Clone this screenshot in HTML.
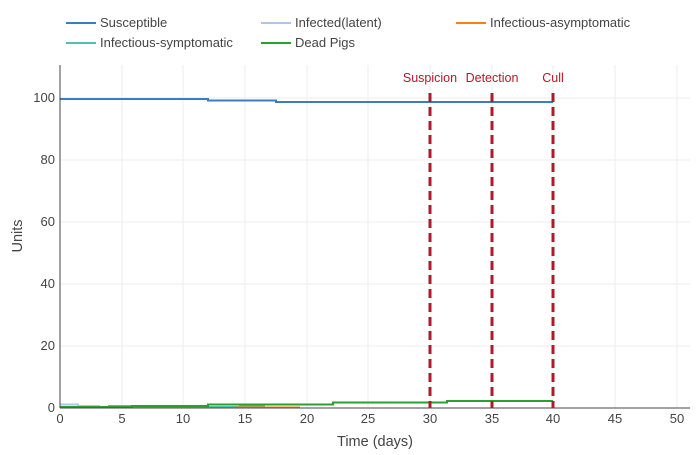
<!DOCTYPE html>
<html><head><style>
body{margin:0;background:#fff;font-family:"Liberation Sans",sans-serif;}
</style></head><body>
<svg width="700" height="450" xmlns="http://www.w3.org/2000/svg" font-family="Liberation Sans, sans-serif">
<rect width="700" height="450" fill="#fff"/>
<g font-size="13" fill="#444">
<line x1="66" y1="23" x2="96" y2="23" stroke="#3a7dc0" stroke-width="2"/><text x="100" y="27">Susceptible</text>
<line x1="261" y1="23" x2="291" y2="23" stroke="#aec7e8" stroke-width="2"/><text x="295" y="27">Infected(latent)</text>
<line x1="456" y1="23" x2="486" y2="23" stroke="#ff7f0e" stroke-width="2"/><text x="490" y="27">Infectious-asymptomatic</text>
<line x1="66" y1="43" x2="96" y2="43" stroke="#4fc1b0" stroke-width="2"/><text x="100" y="47">Infectious-symptomatic</text>
<line x1="261" y1="43" x2="291" y2="43" stroke="#2ca02c" stroke-width="2"/><text x="295" y="47">Dead Pigs</text>
</g>
<g stroke="#eee" stroke-width="1">
<line x1="122" y1="65" x2="122" y2="408"/><line x1="183" y1="65" x2="183" y2="408"/><line x1="245" y1="65" x2="245" y2="408"/><line x1="307" y1="65" x2="307" y2="408"/><line x1="368" y1="65" x2="368" y2="408"/><line x1="430" y1="65" x2="430" y2="408"/><line x1="492" y1="65" x2="492" y2="408"/><line x1="553" y1="65" x2="553" y2="408"/><line x1="615" y1="65" x2="615" y2="408"/><line x1="677" y1="65" x2="677" y2="408"/>
<line x1="60" y1="98" x2="690" y2="98"/><line x1="60" y1="160" x2="690" y2="160"/><line x1="60" y1="222" x2="690" y2="222"/><line x1="60" y1="284" x2="690" y2="284"/><line x1="60" y1="346" x2="690" y2="346"/>
</g>
<polyline fill="none" stroke="#aec7e8" stroke-width="2" points="60,404.5 78,404.5 78,406 100,406"/>
<polyline fill="none" stroke="#4fc1b0" stroke-width="2" points="108,406 131,406 131,407.5 165,407.5 165,406.5 193,406.5 193,407 240,407 240,406.5 265,406.5"/>
<polyline fill="none" stroke="#ff7f0e" stroke-width="2" points="235,407.5 300,407.5"/>
<polyline fill="none" stroke="#3a7dc0" stroke-width="2" points="60,99 208,99 208,100.5 276,100.5 276,102 553,102"/>
<polyline fill="none" stroke="#2ca02c" stroke-width="2" points="60,407 132,407 132,406 208,406 208,404.5 333,404.5 333,402.5 447,402.5 447,401 553,401"/>
<line x1="60" y1="65" x2="60" y2="408" stroke="#444" stroke-width="1"/>
<line x1="60" y1="408" x2="690" y2="408" stroke="#444" stroke-width="1"/>
<g stroke="#b2182b" stroke-width="3" stroke-dasharray="9,5">
<line x1="430" y1="93" x2="430" y2="408"/><line x1="492" y1="93" x2="492" y2="408"/><line x1="553" y1="93" x2="553" y2="408"/>
</g>
<g font-size="12.5" fill="#b2182b" text-anchor="middle">
<text x="430" y="82">Suspicion</text><text x="492" y="82">Detection</text><text x="553" y="82">Cull</text>
</g>
<g font-size="13" fill="#444" text-anchor="middle">
<text x="60" y="423">0</text><text x="122" y="423">5</text><text x="183" y="423">10</text><text x="245" y="423">15</text><text x="307" y="423">20</text><text x="368" y="423">25</text><text x="430" y="423">30</text><text x="492" y="423">35</text><text x="553" y="423">40</text><text x="615" y="423">45</text><text x="677" y="423">50</text>
</g>
<g font-size="13" fill="#444" text-anchor="end">
<text x="55" y="412">0</text><text x="55" y="350">20</text><text x="55" y="288">40</text><text x="55" y="226">60</text><text x="55" y="164">80</text><text x="55" y="102">100</text>
</g>
<text x="375" y="446" font-size="14.5" fill="#444" text-anchor="middle">Time (days)</text>
<text x="22" y="236" font-size="14.5" fill="#444" text-anchor="middle" transform="rotate(-90 22 236)">Units</text>
</svg>
</body></html>
